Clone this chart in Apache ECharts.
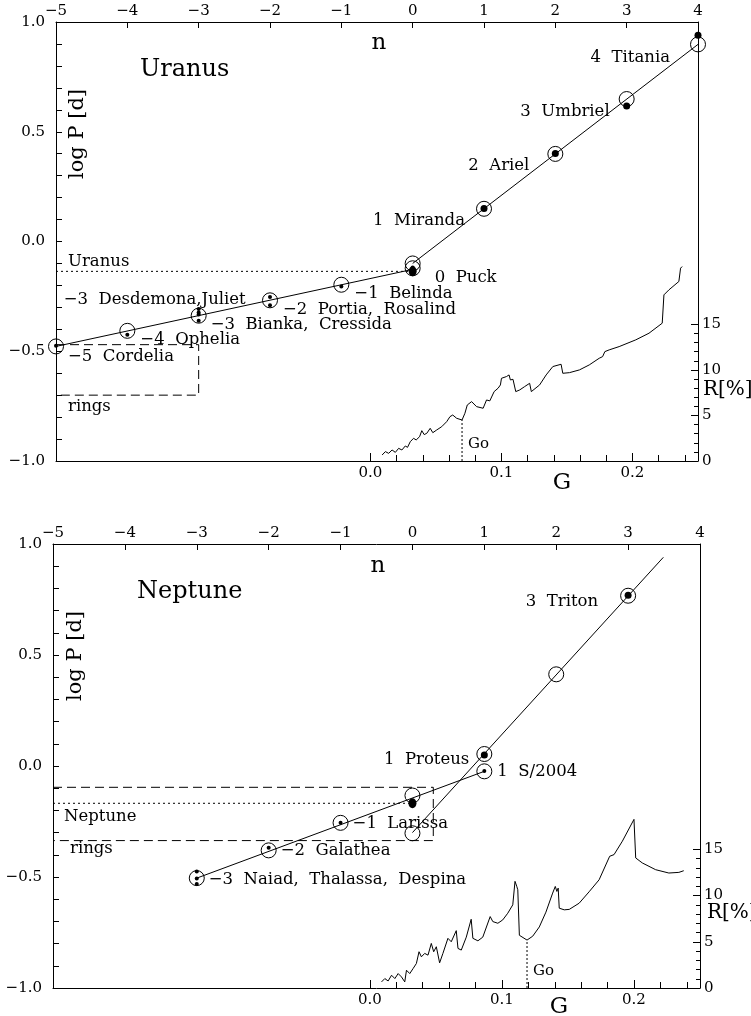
<!DOCTYPE html>
<html><head><meta charset="utf-8">
<script src="https://cdn.jsdelivr.net/npm/echarts@6/dist/echarts.min.js"></script>
<style>html,body{margin:0;padding:0;background:#fff}#c{width:751px;height:1016px}</style>
</head><body><div id="c"></div>
<script>
// ---------------- DATA ----------------
const nTicks = [-5,-4,-3,-2,-1,0,1,2,3,4];
const nTickLabels = ['\u22125','\u22124','\u22123','\u22122','\u22121','0','1','2','3','4'];
const logPTicks = [-1,-0.5,0,0.5,1];
const logPTickLabels = ['\u22121.0','\u22120.5','0.0','0.5','1.0'];
const gTicks = [0,0.1,0.2];
const gTickLabels = ['0.0','0.1','0.2'];
const gMinorTicks = [0.02,0.04,0.06,0.08,0.12,0.14,0.16,0.18,0.22,0.24];
const rTicks = [0,5,10,15];
const rTickLabels = ['0','5','10','15'];
const rMinorTicks = [1,2,3,4,6,7,8,9,11,12,13,14];

// Uranus
const uranusCircleN    = [-5,-4,-3,-2,-1,0,0,1,2,3,4];
const uranusCircleLogP = [-0.478,-0.407,-0.338,-0.268,-0.197,-0.100,-0.122,0.149,0.399,0.649,0.898];
const uranusMoonNames = ['Cordelia','Ophelia','Bianca','Cressida','Desdemona','Juliet','Portia','Rosalind','Belinda','Puck','Miranda','Ariel','Umbriel','Titania'];
const uranusMoonN     = [-5,-4,-3,-3,-3,-3,-2,-2,-1,0,1,2,3,4];
const uranusMoonLogP  = [-0.475,-0.425,-0.361,-0.333,-0.324,-0.307,-0.290,-0.253,-0.205,-0.118,0.150,0.401,0.617,0.940];
const uranusMajorMoons = ['Miranda','Ariel','Umbriel','Titania'];
const uranusRotationLogP = -0.136;
const uranusFitLow  = [[-5,-0.478],[0,-0.127]];
const uranusFitHigh = [[0,-0.100],[4,0.898]];
const uranusRings = [-3,-0.47,-0.70]; // outer n, upper logP, lower logP
const uranusG = [0.0089,0.0114,0.0139,0.0165,0.019,0.0215,0.024,0.0266,0.0283,0.0304,0.0329,0.0349,0.0375,0.0392,0.041,0.043,0.0456,0.0476,0.0506,0.0544,0.0582,0.0607,0.0628,0.0658,0.0699,0.0721,0.0739,0.0772,0.081,0.086,0.0886,0.0911,0.0944,0.0974,0.0992,0.1,0.1012,0.1038,0.1058,0.1068,0.1088,0.1109,0.1139,0.1177,0.1215,0.1228,0.124,0.1291,0.1341,0.1392,0.1455,0.1468,0.1519,0.1595,0.167,0.1746,0.1772,0.1789,0.1822,0.1898,0.2025,0.2126,0.2227,0.224,0.2278,0.2354,0.2367,0.2379];
const uranusR = [0.66,1.03,0.84,1.21,0.95,1.39,1.21,1.65,1.50,2.12,2.49,2.31,2.67,3.33,2.90,3.04,3.59,3.11,3.41,3.77,4.32,4.87,5.05,4.69,4.50,5.24,6.15,6.52,5.97,5.79,6.70,6.60,7.62,7.99,8.35,9.08,8.90,9.27,9.45,8.90,8.97,7.62,7.80,8.17,8.53,7.62,7.62,8.35,9.45,10.37,10.62,9.63,9.70,10.0,10.55,11.28,11.46,12.01,12.2,12.56,13.3,14.03,15.13,18.24,18.79,19.71,21.17,21.35];
const uranusGo = 0.0699, uranusGoR = 4.5;
const uranusLabelText = ['\u22125  Cordelia','\u22124  Ophelia','\u22123  Bianka,  Cressida','\u22123  Desdemona,Juliet','\u22122  Portia,  Rosalind','\u22121  Belinda','0  Puck','1  Miranda','2  Ariel','3  Umbriel','4  Titania'];
const uranusLabelAnchor = [0,1,2,2,3,4,5,7,8,9,10];

// Neptune
const neptuneCircleN    = [-3,-2,-1,0,0,1,1,2,3];
const neptuneCircleLogP = [-0.505,-0.380,-0.256,-0.133,-0.303,0.054,-0.024,0.413,0.767];
const neptuneMoonNames = ['Naiad','Thalassa','Despina','Galatea','Larissa','S/2004 N1','Proteus','Triton'];
const neptuneMoonN     = [-3,-3,-3,-2,-1,1,1,3];
const neptuneMoonLogP  = [-0.531,-0.507,-0.475,-0.368,-0.256,-0.022,0.050,0.769];
const neptuneMajorMoons = ['Proteus','Triton'];
const neptuneRotationLogP = -0.168;
const neptuneFitLow  = [[-3,-0.505],[1,-0.024]];
const neptuneFitHigh = [[0,-0.300],[3.49,0.94]];
const neptuneRings = [0.29,-0.096,-0.336];
const neptuneG = [0.0088,0.0113,0.0138,0.0164,0.0189,0.0214,0.0239,0.0264,0.0277,0.0302,0.0327,0.0352,0.0372,0.039,0.0415,0.044,0.0465,0.0483,0.0503,0.0528,0.0553,0.0591,0.0616,0.0654,0.0667,0.0692,0.073,0.0767,0.078,0.0818,0.0855,0.0911,0.0931,0.0969,0.1006,0.1044,0.1082,0.1099,0.1112,0.112,0.1132,0.119,0.1233,0.1283,0.1333,0.1384,0.1404,0.1416,0.1426,0.1434,0.1472,0.151,0.1585,0.166,0.1736,0.1816,0.1849,0.1912,0.2,0.2013,0.2063,0.2164,0.2264,0.234,0.2377];
const neptuneR = [0.66,1.02,0.76,1.38,1.02,1.56,1.20,0.66,1.92,1.56,2.10,2.65,3.92,3.37,3.74,3.55,4.82,3.92,4.46,2.72,3.74,5.37,5.00,6.20,4.28,4.10,5.50,7.43,5.37,5.10,5.50,7.72,7.18,7.00,7.36,8.08,8.99,11.53,11.0,10.62,5.70,5.18,5.60,6.60,8.20,10.26,10.98,10.44,10.80,8.63,8.45,8.50,9.17,10.40,11.70,14.24,14.42,15.87,18.23,14.06,13.52,12.79,12.43,12.50,12.68];
const neptuneGo = 0.119, neptuneGoR = 5.18;
const neptuneLabelText = ['\u22123  Naiad,  Thalassa,  Despina','\u22122  Galathea','\u22121  Larissa','1  S/2004','1  Proteus','3  Triton'];
const neptuneLabelAnchor = [0,1,2,6,5,8];

// ---------------- STYLE / LAYOUT ----------------
const FONT = 'DejaVu Serif';
const uranusLabelStyle = [['left',12,10],['left',13,9],['left',12,9],['left',-135,-16],['left',13,9],['left',13,9],['left',22,14],['right',-19,12],['right',-26,12],['right',-17,13],['right',-28,13]];
const neptuneLabelStyle = [['left',12,2],['left',12,0],['left',12,1],['left',13,0],['right',-15,6],['right',-30,6]];

const panels = [
  {name:'Uranus', grid:{left:56,top:22,width:642,height:439}, gMin:-0.24, rMax:48.2,
   circleN:uranusCircleN, circleLogP:uranusCircleLogP, moonN:uranusMoonN, moonLogP:uranusMoonLogP, moonNames:uranusMoonNames, major:uranusMajorMoons,
   rot:uranusRotationLogP, fitLow:uranusFitLow, fitHigh:uranusFitHigh, rings:uranusRings, G:uranusG, R:uranusR, go:uranusGo, goR:uranusGoR,
   labelText:uranusLabelText, labelAnchor:uranusLabelAnchor, labelStyle:uranusLabelStyle,
   planetLabel:[12,-10], ringsLabel:[12,12]},
  {name:'Neptune', grid:{left:53,top:544,width:647,height:444}, gMin:-0.24, rMax:48.0,
   circleN:neptuneCircleN, circleLogP:neptuneCircleLogP, moonN:neptuneMoonN, moonLogP:neptuneMoonLogP, moonNames:neptuneMoonNames, major:neptuneMajorMoons,
   rot:neptuneRotationLogP, fitLow:neptuneFitLow, fitHigh:neptuneFitHigh, rings:neptuneRings, G:neptuneG, R:neptuneR, go:neptuneGo, goR:neptuneGoR,
   labelText:neptuneLabelText, labelAnchor:neptuneLabelAnchor, labelStyle:neptuneLabelStyle,
   planetLabel:[11,13], ringsLabel:[17,8]}
];

const logPAllTicks = Array.from({length:21},(_,i)=>+(-1+i*0.1).toFixed(1));
function fmt(ticks, labels){ return v => { const i = ticks.findIndex(t=>Math.abs(t-v)<1e-9); return i<0?'':labels[i]; }; }
const BLACK = '#000';
const axisLine = {show:true, onZero:false, lineStyle:{color:BLACK,width:1}};
const noLine = {show:false, onZero:false};
const tickFont = {fontFamily:FONT, fontSize:15, color:BLACK};

const grids=[], xAxes=[], yAxes=[], series=[];
panels.forEach((p,pi)=>{
  grids.push(Object.assign({containLabel:false}, p.grid));
  const xb = xAxes.length, yb = yAxes.length;
  // x: n (top), G (bottom), G minor
  xAxes.push({type:'value', gridIndex:pi, position:'top', min:-5, max:4, axisLine, splitLine:{show:false},
    axisTick:{show:true, inside:true, length:6, customValues:nTicks, lineStyle:{color:BLACK}},
    axisLabel:Object.assign({show:true, customValues:nTicks, formatter:fmt(nTicks,nTickLabels), margin:3}, tickFont)});
  xAxes.push({type:'value', gridIndex:pi, position:'bottom', offset:0, min:p.gMin, max:0.25, axisLine, splitLine:{show:false},
    axisTick:{show:true, inside:true, length:8, customValues:gTicks, lineStyle:{color:BLACK}},
    axisLabel:Object.assign({show:true, customValues:gTicks, formatter:fmt(gTicks,gTickLabels), margin:5}, tickFont)});
  xAxes.push({type:'value', gridIndex:pi, position:'bottom', offset:0, min:p.gMin, max:0.25, axisLine:noLine, splitLine:{show:false},
    axisTick:{show:true, inside:true, length:6, customValues:gMinorTicks, lineStyle:{color:BLACK}},
    axisLabel:{show:false}});
  // y: logP (left), R (right), R major ticks
  yAxes.push({type:'value', gridIndex:pi, position:'left', offset:0, min:-1, max:1, axisLine, splitLine:{show:false},
    axisTick:{show:true, inside:true, length:6, customValues:logPAllTicks, lineStyle:{color:BLACK}},
    axisLabel:Object.assign({show:true, customValues:logPTicks, formatter:fmt(logPTicks,logPTickLabels), margin:11}, tickFont)});
  yAxes.push({type:'value', gridIndex:pi, position:'right', offset:0, min:0, max:p.rMax, axisLine, splitLine:{show:false},
    axisTick:{show:true, inside:true, length:4, customValues:rMinorTicks, lineStyle:{color:BLACK}},
    axisLabel:Object.assign({show:true, customValues:rTicks, formatter:fmt(rTicks,rTickLabels), margin:4}, tickFont)});
  yAxes.push({type:'value', gridIndex:pi, position:'right', offset:0, min:0, max:p.rMax, axisLine:noLine, splitLine:{show:false},
    axisTick:{show:true, inside:true, length:7, customValues:rTicks, lineStyle:{color:BLACK}},
    axisLabel:{show:false}});

  const nX = xb, gX = xb+1, lY = yb, rY = yb+1;
  const common = {silent:true, animation:false, emphasis:{disabled:true}};
  const lineS = (data, ls, xi, yi) => Object.assign({type:'line', xAxisIndex:xi, yAxisIndex:yi, data, showSymbol:false, symbol:'none',
      lineStyle:Object.assign({color:BLACK,width:1}, ls)}, common);
  // fitted relations
  series.push(lineS(p.fitLow, {}, nX, lY));
  series.push(lineS(p.fitHigh, {}, nX, lY));
  // planet rotation (dotted)
  series.push(lineS([[-5,p.rot],[0,p.rot]], {type:[2,3]}, nX, lY));
  // rings box (dashed)
  const [rn, rt, rbm] = p.rings;
  series.push(lineS([[-5,rt],[rn,rt],[rn,rbm],[-5,rbm]], {type:[9,5]}, nX, lY));
  // open circles
  series.push(Object.assign({type:'scatter', xAxisIndex:nX, yAxisIndex:lY, symbol:'circle', symbolSize:15,
    itemStyle:{color:'rgba(0,0,0,0)', borderColor:BLACK, borderWidth:1, opacity:1},
    data:p.circleN.map((n,i)=>[n,p.circleLogP[i]])}, common));
  // observed moons
  series.push(Object.assign({type:'scatter', xAxisIndex:nX, yAxisIndex:lY, symbol:'circle',
    symbolSize:(v,prm)=> p.major.includes(p.moonNames[prm.dataIndex]) ? 7 : 4,
    itemStyle:{color:BLACK, opacity:1},
    data:p.moonN.map((n,i)=>[n,p.moonLogP[i]])}, common));
  // planet rotation marker
  series.push(Object.assign({type:'scatter', xAxisIndex:nX, yAxisIndex:lY, symbol:'circle', symbolSize:[8,10],
    itemStyle:{color:BLACK, opacity:1}, data:[[0,p.rot]]}, common));
  // labels
  const labData = p.labelText.map((t,i)=>{
    const a = p.labelAnchor[i], st = p.labelStyle[i];
    return {value:[p.circleN[a], p.circleLogP[a]], label:{formatter:t, align:st[0], offset:[st[1],st[2]]}};
  });
  labData.push({value:[-5,p.rot], label:{formatter:p.name, align:'left', offset:p.planetLabel}});
  labData.push({value:[-5,rbm], label:{formatter:'rings', align:'left', offset:p.ringsLabel}});
  series.push(Object.assign({type:'scatter', xAxisIndex:nX, yAxisIndex:lY, symbolSize:1, itemStyle:{color:'rgba(0,0,0,0)', opacity:1},
    label:{show:true, position:'inside', verticalAlign:'middle', fontFamily:FONT, fontSize:16.5, color:BLACK, opacity:1},
    data:labData, clip:false}, common));
  // resonance curve
  series.push(lineS(p.G.map((g,i)=>[g,p.R[i]]), {}, gX, rY));
  series.push(lineS([[p.go,0],[p.go,p.goR]], {type:[2,2]}, gX, rY));
  series.push(Object.assign({type:'scatter', xAxisIndex:gX, yAxisIndex:rY, symbolSize:1, itemStyle:{color:'rgba(0,0,0,0)', opacity:1},
    label:{show:true, position:'inside', verticalAlign:'middle', align:'left', offset:[6,-17], fontFamily:FONT, fontSize:15, color:BLACK, opacity:1, formatter:'Go'},
    data:[[p.go,0]]}, common));
});

function txt(text, x, y, size, align, rot){
  return {type:'text', x, y, rotation:rot||0, silent:true,
    style:{text, fill:BLACK, font:size+'px "'+FONT+'"', align:align||'center', verticalAlign:'middle', textAlign:align||'center', textVerticalAlign:'middle'}};
}
const graphics = [
  txt('Uranus', 140, 70, 24, 'left'),
  txt('n', 379, 43, 23),
  txt('log P [d]', 78, 134, 21, 'center', Math.PI/2),
  txt('G', 562, 483, 23),
  txt('R[%]', 703, 390, 20, 'left'),
  txt('Neptune', 137, 592, 24, 'left'),
  txt('n', 378, 566, 23),
  txt('log P [d]', 76, 656, 21, 'center', Math.PI/2),
  txt('G', 559, 1007, 23),
  txt('R[%]', 707, 913, 20, 'left')
];

const chart = echarts.init(document.getElementById('c'));
chart.setOption({animation:false, backgroundColor:'#fff', grid:grids, xAxis:xAxes, yAxis:yAxes, series, graphic:graphics});
</script></body></html>
